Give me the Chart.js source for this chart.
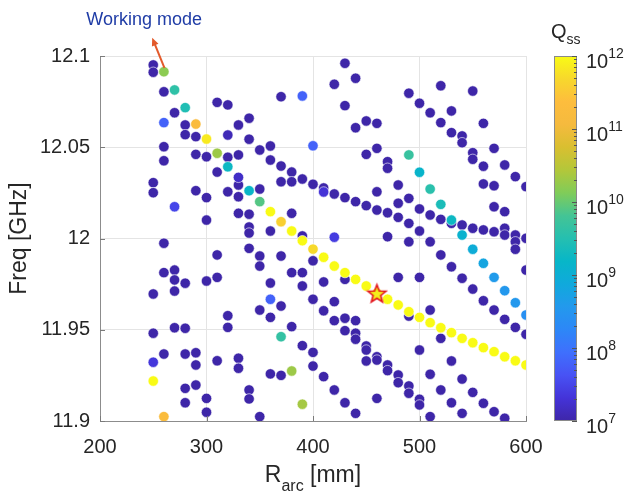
<!DOCTYPE html>
<html lang="en">
<head>
  <meta charset="UTF-8">
  <title>Q_ss map</title>
  <style>
    html, body { margin: 0; padding: 0; background: #fff; }
    canvas { display: block; }
  </style>
</head>
<body>
  <canvas id="chart" width="624" height="494"></canvas>

  <script src="https://cdn.jsdelivr.net/npm/chart.js"></script>
  <script>
    // arc radius of each column of solutions [mm]
    const rArc = [250, 260, 270, 280, 290, 300, 310, 320, 330, 340, 350, 360, 370, 380, 390, 400, 410, 420,
                  430, 440, 450, 460, 470, 480, 490, 500, 510, 520, 530, 540, 550, 560, 570, 580, 590, 600];

    // eigenfrequencies found for each radius [GHz]
    const freqGHz = [
      [12.0951, 12.0911, 12.0306, 12.0251, 11.9696, 11.9481, 11.9322, 11.9219],
      [12.0914, 12.0804, 12.0635, 12.0503, 12.0426, 11.9974, 11.9813, 11.9367, 11.9024],
      [12.0814, 12.0689, 12.0174, 11.9827, 11.9773, 11.9712, 11.9511],
      [12.0717, 12.0622, 12.0569, 11.9755, 11.9508, 11.9367, 11.9179, 11.9100],
      [12.0627, 12.0558, 12.0461, 12.0262, 11.9374, 11.9307, 11.9197],
      [12.0545, 12.0448, 12.0224, 12.0101, 11.9767, 11.9124, 11.9048],
      [12.0746, 12.0467, 12.0364, 11.9910, 11.9787, 11.9330],
      [12.0732, 12.0567, 12.0445, 12.0393, 12.0256, 11.9577, 11.9513],
      [12.0622, 12.0458, 12.0335, 12.0293, 12.0229, 12.0138, 11.9344, 11.9289],
      [12.0659, 12.0544, 12.0262, 12.0133, 12.0063, 12.0030, 11.9946, 11.9170, 11.9121],
      [12.0485, 12.0271, 12.0202, 11.9904, 11.9849, 11.9608, 11.9024],
      [12.0507, 12.0430, 12.0147, 12.0041, 11.9756, 11.9667, 11.9568, 11.9258],
      [12.0777, 12.0397, 12.0311, 12.0092, 11.9904, 11.9630, 11.9462, 11.9250],
      [12.0364, 12.0311, 12.0138, 12.0041, 11.9813, 11.9517, 11.9274],
      [12.0781, 12.0326, 12.0014, 11.9988, 11.9813, 11.9740, 11.9413, 11.9092],
      [12.0508, 12.0297, 11.9942, 11.9878, 11.9667, 11.9376, 11.9301],
      [12.0277, 12.0255, 11.9897, 11.9762, 11.9604, 11.9243],
      [12.0845, 12.0244, 12.0007, 11.9849, 11.9654, 11.9550, 11.9170],
      [12.0960, 12.0728, 12.0224, 11.9813, 11.9776, 11.9563, 11.9495, 11.9100],
      [12.0878, 12.0607, 12.0202, 11.9776, 11.9550, 11.9481, 11.9448, 11.9042],
      [12.0644, 12.0461, 12.0180, 11.9740, 11.9411, 11.9389, 11.9329],
      [12.0631, 12.0494, 12.0256, 12.0156, 11.9700, 11.9352, 11.9334, 11.9124],
      [12.0421, 12.0385, 12.0141, 12.0010, 11.9667, 11.9307, 11.9276],
      [12.0293, 12.0193, 12.0116, 11.9787, 11.9636, 11.9252, 11.9210],
      [12.0796, 12.0458, 12.0220, 12.0083, 11.9982, 11.9599, 11.9575, 11.9192, 11.9152],
      [12.0741, 12.0363, 12.0162, 12.0041, 11.9787, 11.9568, 11.9389, 11.9119, 11.9088],
      [12.0689, 12.0271, 12.0129, 11.9982, 11.9608, 11.9539, 11.9256, 11.9024],
      [12.0837, 12.0635, 12.0187, 12.0105, 11.9910, 11.9511, 11.9453, 11.9170],
      [12.0699, 12.0580, 12.0101, 12.0083, 11.9845, 11.9484, 11.9329, 11.9100],
      [12.0562, 12.0525, 12.0074, 12.0019, 11.9782, 11.9453, 11.9230, 11.9042],
      [12.0808, 12.0470, 12.0434, 12.0056, 11.9941, 11.9723, 11.9429, 11.9157],
      [12.0631, 12.0396, 12.0299, 12.0047, 11.9864, 11.9659, 11.9402, 11.9097],
      [12.0494, 12.0289, 12.0174, 12.0037, 11.9787, 11.9608, 11.9380, 11.9051],
      [12.0403, 12.0147, 12.0056, 12.0019, 11.9714, 11.9557, 11.9352, 11.9015],
      [12.0339, 12.0019, 11.9982, 11.9941, 11.9648, 11.9513, 11.9330],
      [12.0284, 12.0001, 11.9827, 11.9581, 11.9475, 11.9307]
    ];

    // log10(Q_ss) of the same modes
    const logQss = [
      [7, 7, 7, 7, 7, 7, 7.35, 12],
      [10.2, 7, 7.8, 7, 7, 7, 7, 7, 11.25],
      [9.6, 7, 7.5, 7, 7, 7, 7],
      [9.45, 7, 7, 7, 7, 7, 7, 7],
      [11.25, 7, 7, 7, 7, 7, 7],
      [11.85, 7, 7, 7, 7, 7, 7],
      [7, 10.3, 7, 7, 7, 7],
      [7, 7.1, 7, 9.25, 7, 7, 7],
      [7, 7, 7.2, 7, 7, 7, 7, 7],
      [7, 7, 9.2, 7, 7, 7, 7, 7, 7],
      [7, 7, 9.9, 7, 7, 7, 7],
      [7, 7, 12, 7, 7, 7.8, 7, 7],
      [7, 7, 7, 11.6, 7, 7, 9.65, 7],
      [7, 7, 7, 12, 7, 7, 10.3],
      [7.8, 7, 7, 12, 7, 7, 7, 10.35],
      [7.8, 7, 11.7, 7, 7, 7, 7],
      [7, 7.3, 12, 7, 7, 7],
      [7, 7, 7.4, 12, 7, 7, 7],
      [7, 7, 7, 12, 7, 7, 7, 7],
      [7, 7, 7, 12, 7, 7, 7, 7],
      [7, 7, 7, 12, 7, 7, 7],
      [7, 7, 7, 7, 12, 7, 7, 7],
      [7, 7, 7, 7, 12, 7, 7],
      [7, 7, 7, 7, 12, 7, 7],
      [7, 9.7, 7, 7, 7, 12, 7, 7, 7],
      [7, 9.15, 7, 7, 7, 12, 7, 7, 7],
      [7, 9.55, 7, 7, 7, 12, 7, 7],
      [7, 7, 9.4, 7, 7, 12, 7, 7],
      [7, 7, 9.25, 7, 7, 12, 7, 7],
      [7, 7, 7, 9.1, 7, 12, 7, 7],
      [7, 7, 7, 7, 8.95, 7, 12, 7],
      [7, 7, 7, 7, 8.8, 7, 12, 7],
      [7, 7, 7, 7, 8.6, 7, 12, 7],
      [7, 7, 7, 7, 8.55, 7, 12, 7],
      [7, 7, 7, 7, 8.55, 7, 12],
      [7, 7, 7, 8.4, 7, 12]
    ];

    // chosen working mode (star)
    const workR = [460];
    const workF = [11.970];

    const xTicks = [200, 300, 400, 500, 600];
    const yTicks = [11.9, 11.95, 12, 12.05, 12.1];
    const cbTicks = [7, 8, 9, 10, 11, 12];   // exponents of the colour bar
    const qMin = 7, qMax = 12;

    // annotation anchor points (data units)
    const noteText = 'Working mode';
    const noteAt = [241.5, 12.1197];
    const arrowFrom = [260.5, 12.0935];
    const arrowTo = [249, 12.1100];

    // parula-like colour map
    const parula = [
      [0, '#3e26a8'], [0.0625, '#4433d8'], [0.125, '#4852f4'], [0.1875, '#3f6ffd'],
      [0.25, '#2d87f7'], [0.3125, '#2399ed'], [0.375, '#10a9dc'], [0.4375, '#07b6c8'],
      [0.5, '#25bfb0'], [0.5625, '#44c495'], [0.625, '#80cc59'], [0.6875, '#b3c73a'],
      [0.75, '#d9bf30'], [0.8125, '#f5ba3e'], [0.875, '#fdbd3d'], [0.9375, '#f7d82c'],
      [1, '#f9fb15']
    ];

    function hexRgb(h) {
      return [parseInt(h.slice(1, 3), 16), parseInt(h.slice(3, 5), 16), parseInt(h.slice(5, 7), 16)];
    }

    function qColor(q) {
      const t = Math.min(1, Math.max(0, (q - qMin) / (qMax - qMin)));
      for (let i = 1; i < parula.length; i++) {
        if (t <= parula[i][0]) {
          const [t0, c0] = parula[i - 1], [t1, c1] = parula[i];
          const f = (t - t0) / (t1 - t0);
          const a = hexRgb(c0), b = hexRgb(c1);
          const c = a.map((v, k) => Math.round(v + (b[k] - v) * f));
          return 'rgb(' + c.join(',') + ')';
        }
      }
      return parula[parula.length - 1][1];
    }

    // flatten the columns, low Q first so bright points end on top
    let points = [];
    rArc.forEach((r, i) => {
      freqGHz[i].forEach((f, j) => points.push({ x: r, y: f, q: logQss[i][j] }));
    });
    points.sort((a, b) => a.q - b.q);

    function makeStar(R) {
      const c = document.createElement('canvas');
      const s = Math.ceil(R * 2 + 4);
      c.width = s; c.height = s;
      const g = c.getContext('2d');
      g.beginPath();
      for (let i = 0; i < 10; i++) {
        const rr = i % 2 ? R * 0.42 : R;
        const a = -Math.PI / 2 + i * Math.PI / 5;
        g.lineTo(s / 2 + rr * Math.cos(a), s / 2 + 1 + rr * Math.sin(a));
      }
      g.closePath();
      g.fillStyle = '#f4ee1c';
      g.fill();
      g.strokeStyle = '#e3141b';
      g.lineWidth = 1.6;
      g.stroke();
      return c;
    }

    const FONT = "'Liberation Sans', Arial, sans-serif";
    const INK = '#262626';

    // draws text made of pieces with their own size and vertical shift
    function richText(ctx, parts, x, y, align) {
      let w = 0;
      parts.forEach(p => { ctx.font = p.size + 'px ' + FONT; p.w = ctx.measureText(p.t).width; w += p.w; });
      let cx = align === 'center' ? x - w / 2 : x;
      ctx.textAlign = 'left';
      ctx.textBaseline = 'alphabetic';
      parts.forEach(p => {
        ctx.font = p.size + 'px ' + FONT;
        ctx.fillText(p.t, cx, y + (p.dy || 0));
        cx += p.w;
      });
    }

    const decorations = {
      id: 'decorations',
      afterDraw(chart) {
        const { ctx, chartArea: a, scales: { x, y } } = chart;
        ctx.save();

        // inward ticks on the left and bottom axes
        ctx.strokeStyle = '#7a7a7a';
        ctx.lineWidth = 1;
        ctx.beginPath();
        xTicks.forEach(v => {
          const px = Math.round(x.getPixelForValue(v)) + 0.5;
          ctx.moveTo(px, a.bottom); ctx.lineTo(px, a.bottom - 5);
        });
        yTicks.forEach(v => {
          const py = Math.round(y.getPixelForValue(v)) + 0.5;
          ctx.moveTo(a.left, py); ctx.lineTo(a.left + 5, py);
        });
        ctx.stroke();

        // axis titles
        ctx.fillStyle = INK;
        richText(ctx, [
          { t: 'R', size: 23 },
          { t: 'arc', size: 16, dy: 9 },
          { t: ' [mm]', size: 23 }
        ], (a.left + a.right) / 2, 482, 'center');

        ctx.save();
        ctx.translate(26, (a.top + a.bottom) / 2);
        ctx.rotate(-Math.PI / 2);
        ctx.font = '23px ' + FONT;
        ctx.textAlign = 'center';
        ctx.textBaseline = 'alphabetic';
        ctx.fillText('Freq [GHz]', 0, 0);
        ctx.restore();

        // colour bar
        const bx = a.right + 28, bw = 23;
        const grad = ctx.createLinearGradient(0, a.bottom, 0, a.top);
        parula.forEach(([t, c]) => grad.addColorStop(t, c));
        ctx.fillStyle = grad;
        ctx.fillRect(bx, a.top, bw, a.bottom - a.top);
        ctx.strokeStyle = '#8a8a8a';
        ctx.lineWidth = 1;
        ctx.strokeRect(bx + 0.5, a.top + 0.5, bw - 1, a.bottom - a.top - 1);

        const cbY = q => a.bottom - (q - qMin) / (qMax - qMin) * (a.bottom - a.top);
        ctx.strokeStyle = '#555';
        ctx.beginPath();
        for (let e = qMin; e < qMax; e++) {
          for (let k = 2; k <= 9; k++) {
            const py = Math.round(cbY(e + Math.log10(k))) + 0.5;
            ctx.moveTo(bx + bw - 3, py); ctx.lineTo(bx + bw, py);
          }
        }
        cbTicks.forEach(e => {
          const py = Math.round(cbY(e)) + 0.5;
          ctx.moveTo(bx + bw - 5, py); ctx.lineTo(bx + bw, py);
        });
        ctx.stroke();

        ctx.fillStyle = INK;
        cbTicks.forEach(e => {
          const py = cbY(e);
          richText(ctx, [
            { t: '10', size: 20 },
            { t: String(e), size: 14, dy: -10 }
          ], bx + bw + 9, py + 12, 'left');
        });

        richText(ctx, [
          { t: 'Q', size: 20 },
          { t: 'ss', size: 14, dy: 6 }
        ], bx - 3, 38, 'left');

        // working mode note with arrow
        const fx = x.getPixelForValue(arrowFrom[0]), fy = y.getPixelForValue(arrowFrom[1]);
        const tx = x.getPixelForValue(arrowTo[0]), ty = y.getPixelForValue(arrowTo[1]);
        const ang = Math.atan2(ty - fy, tx - fx);
        ctx.strokeStyle = '#e35a2b';
        ctx.fillStyle = '#e35a2b';
        ctx.lineWidth = 2;
        ctx.beginPath();
        ctx.moveTo(fx, fy);
        ctx.lineTo(tx - 5 * Math.cos(ang), ty - 5 * Math.sin(ang));
        ctx.stroke();
        ctx.beginPath();
        ctx.moveTo(tx, ty);
        ctx.lineTo(tx - 8 * Math.cos(ang) + 3.5 * Math.sin(ang), ty - 8 * Math.sin(ang) - 3.5 * Math.cos(ang));
        ctx.lineTo(tx - 8 * Math.cos(ang) - 3.5 * Math.sin(ang), ty - 8 * Math.sin(ang) + 3.5 * Math.cos(ang));
        ctx.closePath();
        ctx.fill();

        ctx.fillStyle = '#1f3ca6';
        ctx.font = '18px ' + FONT;
        ctx.textAlign = 'center';
        ctx.textBaseline = 'middle';
        ctx.fillText(noteText, x.getPixelForValue(noteAt[0]), y.getPixelForValue(noteAt[1]));

        ctx.restore();
      }
    };

    Chart.defaults.font.family = FONT;
    Chart.defaults.color = INK;

    new Chart(document.getElementById('chart'), {
      type: 'scatter',
      data: {
        datasets: [
          {
            label: 'working mode',
            data: workR.map((r, i) => ({ x: r, y: workF[i] })),
            pointStyle: makeStar(9.5),
            pointRadius: 10
          },
          {
            label: 'Q_ss',
            data: points,
            backgroundColor: points.map(p => qColor(p.q)),
            borderColor: 'rgba(255,255,255,0.85)',
            borderWidth: 0.7,
            pointRadius: 5.2
          }
        ]
      },
      options: {
        responsive: false,
        animation: false,
        events: [],
        layout: { padding: { top: 56, right: 98, left: 0, bottom: 0 } },
        plugins: { legend: { display: false }, tooltip: { enabled: false } },
        scales: {
          x: {
            type: 'linear',
            min: 200, max: 600,
            afterBuildTicks: s => { s.ticks = xTicks.map(v => ({ value: v })); },
            afterFit: s => { s.height = 73; },
            grid: { color: '#e4e4e4', drawTicks: false },
            border: { color: '#8c8c8c' },
            ticks: { font: { size: 20 }, color: INK, padding: 14, maxRotation: 0, callback: v => String(v) }
          },
          y: {
            type: 'linear',
            min: 11.9, max: 12.1,
            afterBuildTicks: s => { s.ticks = yTicks.map(v => ({ value: v })); },
            afterFit: s => { s.width = 100; },
            grid: { color: '#e4e4e4', drawTicks: false },
            border: { color: '#8c8c8c' },
            ticks: { font: { size: 20 }, color: INK, padding: 10, callback: v => String(v) }
          }
        }
      },
      plugins: [decorations]
    });
  </script>
</body>
</html>
